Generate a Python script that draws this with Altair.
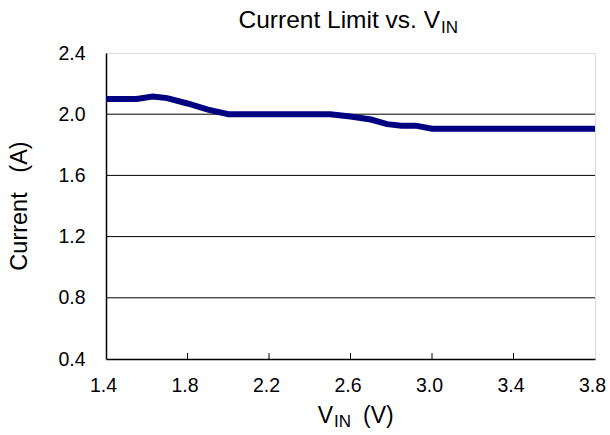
import altair as alt
import pandas as pd

vin = [1.4, 1.55, 1.63, 1.7, 1.8, 1.9, 2.0, 2.5, 2.6, 2.7, 2.78, 2.85, 2.92, 3.0, 3.8]
current = [2.10, 2.10, 2.115, 2.105, 2.07, 2.03, 2.00, 2.00, 1.985, 1.965, 1.935, 1.925, 1.925, 1.905, 1.905]
x_ticks = [1.4, 1.8, 2.2, 2.6, 3.0, 3.4, 3.8]
y_ticks = [0.4, 0.8, 1.2, 1.6, 2.0, 2.4]

df = pd.DataFrame({"vin": vin, "current": current})
tick_df = pd.DataFrame({"t": x_ticks[1:-1]})
grid_df = pd.DataFrame({"g": y_ticks[1:-1]})

W, H = 489, 306
FONT = "Liberation Sans"

xs = alt.Scale(domain=[1.4, 3.8], nice=False, zero=False)
ys = alt.Scale(domain=[0.4, 2.4], nice=False, zero=False)

grid = alt.Chart(grid_df).mark_rule(color="black", strokeWidth=1).encode(
    y=alt.Y("g:Q", scale=ys),
    x=alt.value(0),
    x2=alt.value(W),
)

line = alt.Chart(df).mark_line(color="#000080", strokeWidth=6, clip=True).encode(
    x=alt.X("vin:Q", scale=xs,
            axis=alt.Axis(values=x_ticks, format=".1f", title=None, grid=False,
                          ticks=False, domainColor="black", domainWidth=1.5,
                          labelFont=FONT, labelFontSize=19.5, labelColor="black",
                          labelPadding=17, labelFlush=False, labelOffset=-3)),
    y=alt.Y("current:Q", scale=ys,
            axis=alt.Axis(values=y_ticks, format=".1f", title=None,
                          grid=False, ticks=False, domainColor="black", domainWidth=1.5,
                          labelFont=FONT, labelFontSize=19.5, labelColor="black",
                          labelPadding=21)),
)

ticks = alt.Chart(tick_df).mark_rule(color="black", strokeWidth=1).encode(
    x=alt.X("t:Q", scale=xs),
    y=alt.value(H - 6),
    y2=alt.value(H),
)

def txt(s, x, y, size, align, angle=0, baseline="alphabetic"):
    return alt.Chart(pd.DataFrame({"s": [s]})).mark_text(
        font=FONT, fontSize=size, color="black", align=align, baseline=baseline, angle=angle
    ).encode(text="s:N", x=alt.value(x), y=alt.value(y))

title_main = txt("Current Limit vs. V", 334, -25, 24.5, "right")
title_sub = txt("IN", 335, -20, 17, "left")
xt_v = txt("V", 227, 370, 23, "right")
xt_sub = txt("IN", 228, 374, 17, "left")
xt_rest = txt("(V)", 257, 370, 23, "left")
yt = txt("Current\u00a0\u00a0\u00a0(A)", -86, 153, 23.5, "center", angle=270, baseline="middle")

chart = alt.layer(grid, line, ticks, title_main, title_sub, xt_v, xt_sub, xt_rest, yt).properties(
    width=W, height=H,
    autosize=alt.AutoSizeParams(type="none"),
    padding={"left": 106, "top": 53, "right": 15, "bottom": 76},
).configure_view(stroke="#999999", strokeWidth=1.5).configure(background="white")

chart.save("out.html", embed_options={"renderer": "svg", "actions": False})
